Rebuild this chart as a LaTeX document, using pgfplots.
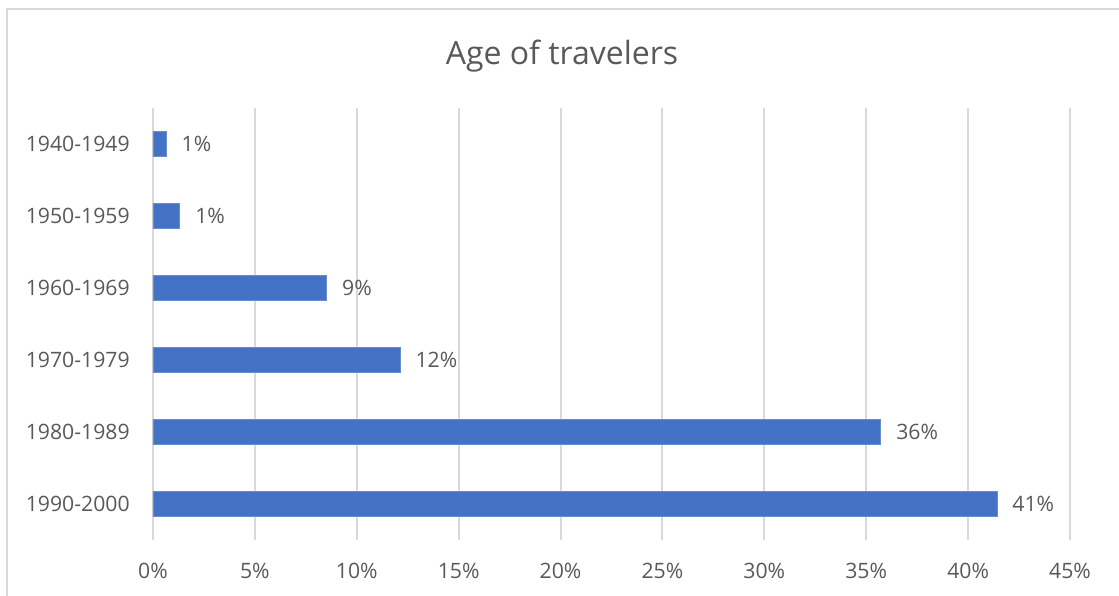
\documentclass[border=0pt]{standalone}
\usepackage{pgfplots}
\pgfplotsset{compat=1.18}
\usepackage{fontspec}
\setmainfont{Open Sans}
\definecolor{barblue}{HTML}{4472C4}
\definecolor{txtgray}{HTML}{595959}
\definecolor{gridgray}{HTML}{D9D9D9}
\begin{document}
\begin{tikzpicture}
\begin{axis}[
  at={(0,0)}, anchor=south west,
  scale only axis,
  width=458.5pt, height=216pt,
  xbar, bar width=12.5pt,
  xmin=0, xmax=45,
  ymin=-0.5, ymax=5.5,
  y dir=reverse,
  xtick={0,5,...,45},
  xticklabels={0\%,5\%,10\%,15\%,20\%,25\%,30\%,35\%,40\%,45\%},
  ytick={0,1,2,3,4,5},
  yticklabels={1940-1949,1950-1959,1960-1969,1970-1979,1980-1989,1990-2000},
  xmajorgrids,
  grid style={gridgray, line width=1pt},
  axis line style={draw=none},
  major tick length=0pt,
  tick label style={font=\fontsize{10.6}{12}\selectfont, text=txtgray, inner sep=0pt},
  xticklabel style={anchor=base, yshift=-19pt},
  yticklabel style={anchor=east, xshift=-11.5pt},
  point meta=explicit symbolic,
  nodes near coords,
  every node near coord/.append style={anchor=west, inner sep=0pt, xshift=7.5pt, font=\fontsize{10.6}{12}\selectfont, text=txtgray},
]
\addplot[fill=barblue, draw=barblue!80!white, line width=0.4pt] coordinates {
  (0.65,0) [1\%]
  (1.32,1) [1\%]
  (8.53,2) [9\%]
  (12.13,3) [12\%]
  (35.72,4) [36\%]
  (41.42,5) [41\%]
};
\end{axis}
\node[anchor=base, text=txtgray, font=\fontsize{16}{19}\selectfont] at (204.5pt,237.5pt) {Age of travelers};
\draw[gridgray, line width=1pt] (-73pt,-30pt) -- (-73pt,265.5pt) -- (490pt,265.5pt);
\pgfresetboundingbox
\useasboundingbox (-76.5pt,-27.5pt) rectangle (483pt,270pt);
\end{tikzpicture}
\end{document}
